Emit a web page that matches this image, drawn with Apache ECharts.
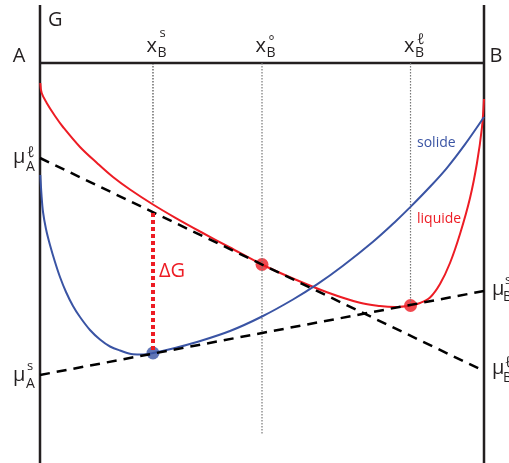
<!DOCTYPE html>
<html>
<head>
<meta charset="utf-8">
<script src="https://cdn.jsdelivr.net/npm/echarts@6/dist/echarts.min.js"></script>
<style>
  html, body { margin: 0; background: #fff; }
  #chart { width: 509px; height: 463px; }
</style>
</head>
<body>
<div id="chart"></div>
<script>
// composition x_B (0 = A, 1 = B) and free energy G (arbitrary units, 0 = top line)
const liquidX = [0.0007, 0.0038, 0.0151, 0.0338, 0.0518, 0.0901, 0.1284, 0.1644, 0.2027, 0.2545, 0.3041, 0.3604, 0.4279, 0.5, 0.5698, 0.6464, 0.7207, 0.7658, 0.7995, 0.8345, 0.8559, 0.8784, 0.9009, 0.9234, 0.9459, 0.9685, 0.9842, 0.9955, 1]
const liquidG = [-0.20, -0.30, -0.40, -0.53, -0.64, -0.84, -1.00, -1.14, -1.265, -1.415, -1.546, -1.685, -1.845, -2.015, -2.155, -2.292, -2.398, -2.43, -2.44, -2.425, -2.40, -2.345, -2.21, -2.00, -1.71, -1.35, -1.00, -0.64, -0.36]

const solidX = [0.0007, 0.0034, 0.0068, 0.0135, 0.0225, 0.0338, 0.045, 0.0586, 0.0743, 0.0901, 0.1126, 0.1351, 0.1577, 0.1802, 0.2095, 0.232, 0.2545, 0.3041, 0.3536, 0.4279, 0.5, 0.5698, 0.6239, 0.6824, 0.75, 0.7995, 0.8356, 0.8784, 0.9167, 0.9572, 1]
const solidG = [-1.12, -1.32, -1.49, -1.66, -1.82, -1.99, -2.14, -2.29, -2.43, -2.54, -2.67, -2.765, -2.835, -2.875, -2.913, -2.915, -2.90, -2.85, -2.79, -2.68, -2.535, -2.365, -2.214, -2.027, -1.787, -1.589, -1.434, -1.238, -1.048, -0.814, -0.54]

// tangents: values at x = 0 (A) and x = 1 (B)
const tangentLiquid = [-0.95, -3.08] // mu_A^l, mu_B^l
const tangentCommon = [-3.12, -2.28] // mu_A^s, mu_B^s

// special compositions
const xS = 0.2545, xO = 0.5, xL = 0.8345
const solidDotG = -2.90
const liquidDotG = [-2.015, -2.425]
const deltaG = [-1.50, -2.87]   // red dotted bar at x_B^s
const frameTop = 0.58, frameBottom = -4

const RED = '#ed1c24'
const BLUE = '#3a54a4'
const INK = '#231f20'
const FONT = '"Open Sans", "DejaVu Sans", sans-serif'

const zip = (xs, ys) => xs.map((x, i) => [x, ys[i]])

function line(data, color, width, type, extra) {
  return Object.assign({
    type: 'line', data: data, showSymbol: false, silent: true,
    lineStyle: { color: color, width: width, type: type || 'solid' }
  }, extra || {})
}

const chart = echarts.init(document.getElementById('chart'))
chart.setOption({
  animation: false,
  grid: { left: 40, right: 25, top: 0, bottom: 0 },
  xAxis: { type: 'value', min: 0, max: 1, show: false },
  yAxis: { type: 'value', min: -4, max: 0.63, show: false },
  series: [
    // cadre
    line([[0, frameTop], [0, frameBottom]], INK, 2.5),
    line([[1, frameTop], [1, frameBottom]], INK, 2.5),
    line([[0, 0], [1, 0]], INK, 2.5),
    // verticales pointillees
    line([[xS, 0], [xS, -1.40]], '#222', 1, [1.5, 1.5]),
    line([[xO, 0], [xO, -3.72]], '#777', 1.2, [1.5, 1.5]),
    line([[xL, 0], [xL, liquidDotG[1]]], '#777', 1.2, [1.5, 1.5]),
    // courbes
    line(zip(liquidX, liquidG), RED, 2, 'solid', { smooth: 0.35 }),
    line(zip(solidX, solidG), BLUE, 2, 'solid', { smooth: 0.35 }),
    // tangentes
    line([[0, tangentLiquid[0]], [1, tangentLiquid[1]]], '#000', 2.5, [10, 7]),
    line([[0, tangentCommon[0]], [1, tangentCommon[1]]], '#000', 2.5, [10, 7]),
    // Delta G
    line([[xS, deltaG[0]], [xS, deltaG[1]]], RED, 4, [4, 3]),
    {
      type: 'scatter', silent: true, symbolSize: 13,
      data: [
        { value: [xO, liquidDotG[0]], itemStyle: { color: RED } },
        { value: [xL, liquidDotG[1]], itemStyle: { color: RED } },
        { value: [xS, solidDotG], itemStyle: { color: BLUE } }
      ]
    }
  ]
})

function t(x, y, s, size, color, align) {
  return {
    type: 'text', x: x, y: y, silent: true,
    style: {
      text: s, font: size + 'px ' + FONT, fill: color || INK,
      textAlign: align || 'left', textVerticalAlign: 'middle',
      align: align || 'left', verticalAlign: 'middle'
    }
  }
}

const top0 = chart.convertToPixel({ gridIndex: 0 }, [0, 0])[1]
const g = [
  t(48, 20.5, 'G', 20),
  t(19, 56.5, 'A', 20, INK, 'center'),
  t(496, 56.5, 'B', 20, INK, 'center'),
  t(417, 143.5, 'solide', 14, BLUE),
  t(417, 219.5, 'liquide', 14, RED),
  t(159, 271.5, 'ΔG', 20, RED)
]
// x_B labels above the top line
const xl = [[xS, 's', 13, 29.3], [xO, '°', 14, 20.6], [xL, 'ℓ', 15, 23]]
xl.forEach(function (d) {
  const X = chart.convertToPixel({ gridIndex: 0 }, [d[0], 0])[0]
  g.push(t(X - 6.5, top0 - 16.6, 'x', 20))
  g.push(t(X + 4.5, top0 - 9.6, 'B', 14))
  g.push(t(X + 6.5, top0 - d[3], d[1], d[2]))
})
// potentials chimiques
const mu = [
  [13, 157.4, 'ℓ', 15, 153, 'A', 167.4, 27, 26],
  [13, 375.4, 's', 13, 366.7, 'A', 384.4, 27, 26],
  [492, 289.4, 's', 13, 280.7, 'B', 297.4, 505, 503],
  [492, 368.4, 'ℓ', 15, 363, 'B', 378.4, 505, 503]
]
mu.forEach(function (m) {
  g.push(t(m[0], m[1], 'μ', 20))
  g.push(t(m[7], m[4], m[2], m[3]))
  g.push(t(m[8], m[6], m[5], 14))
})
chart.setOption({ graphic: g })
</script>
</body>
</html>
